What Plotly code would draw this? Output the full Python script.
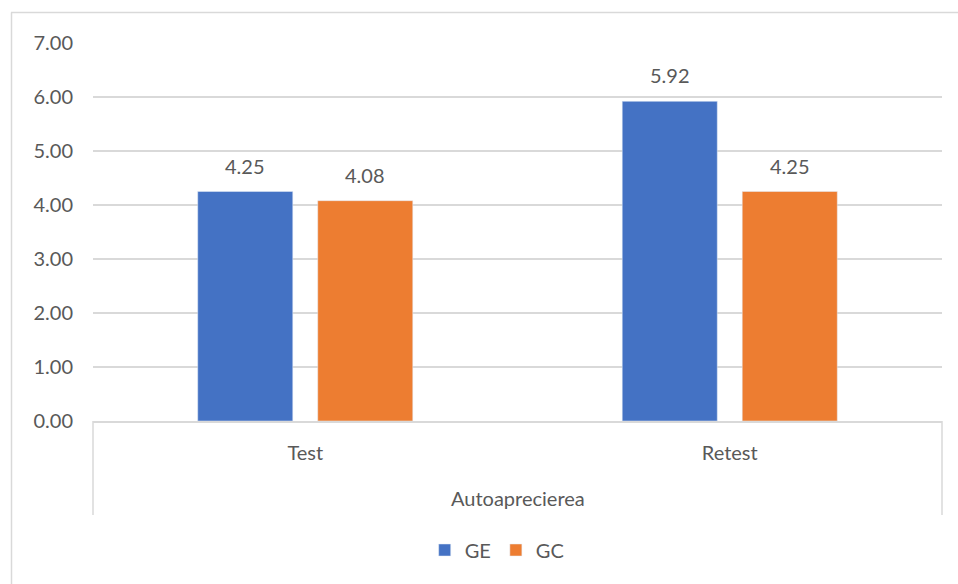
import plotly.graph_objects as go

categories = ["Test", "Retest"]
group_label = "Autoaprecierea"
ge_values = [4.25, 5.92]
gc_values = [4.08, 4.25]
series_names = ["GE", "GC"]
tick_vals = [0, 1, 2, 3, 4, 5, 6, 7]
tick_text = ["0.00", "1.00", "2.00", "3.00", "4.00", "5.00", "6.00", "7.00"]

BLUE = "#4472C4"
ORANGE = "#ED7D31"
TXT = "#595959"
GRID = "#D9D9D9"
FONT = "Lato"
FS = 20

# plot area geometry (pixels)
L, R, T, B = 93, 942, 43, 421
PW, PH = R - L, B - T

def py(p):
    return (B - p) / PH

def px(p):
    return (p - L) / PW

fig = go.Figure()
fig.add_trace(go.Bar(x=categories, y=ge_values, name=series_names[0], marker_color=BLUE))
fig.add_trace(go.Bar(x=categories, y=gc_values, name=series_names[1], marker_color=ORANGE))

# data labels
for vals, shift in ((ge_values, -60), (gc_values, 60)):
    for c, v in zip(categories, vals):
        fig.add_annotation(x=c, y=v, text=f"{v:.2f}", showarrow=False,
                           xshift=shift, yshift=26, font=dict(family=FONT, size=FS, color=TXT))

# group label and dividers
fig.add_annotation(x=0.5, xref="paper", y=py(498), yref="paper", yanchor="middle",
                   text=group_label, showarrow=False, font=dict(family=FONT, size=FS, color=TXT))
for xp in (0, 1):
    fig.add_shape(type="line", xref="paper", yref="paper", x0=xp, x1=xp, y0=0, y1=py(515),
                  line=dict(color=GRID, width=1.5))
# chart border (top and left)
fig.add_shape(type="line", xref="paper", yref="paper", x0=px(11), x1=px(970),
              y0=py(12.5), y1=py(12.5), line=dict(color=GRID, width=1.5))
fig.add_shape(type="line", xref="paper", yref="paper", x0=px(11.5), x1=px(11.5),
              y0=py(12.5), y1=py(600), line=dict(color=GRID, width=1.5))

fig.update_layout(
    width=958, height=584,
    margin=dict(l=L, r=958 - R, t=T, b=584 - B),
    paper_bgcolor="white", plot_bgcolor="white",
    bargap=0.4346, bargroupgap=0.208,
    font=dict(family=FONT, size=FS, color=TXT),
    showlegend=True,
    legend=dict(orientation="h", xref="container", yref="container", x=0.519, xanchor="center",
                y=1 - 550 / 584, yanchor="middle", font=dict(family=FONT, size=FS, color=TXT),
                itemwidth=30, tracegroupgap=0),
)
fig.update_xaxes(showline=True, linecolor=GRID, linewidth=1.5, showgrid=False,
                 ticks="", ticklabelstandoff=13, tickfont=dict(family=FONT, size=FS, color=TXT))
fig.update_yaxes(range=[0, 7], tickvals=tick_vals, ticktext=tick_text, showgrid=True,
                 gridcolor=GRID, gridwidth=1.5, zeroline=False, showline=False,
                 ticks="", ticklabelstandoff=19, tickfont=dict(family=FONT, size=FS, color=TXT))

fig.write_html("out.html", config={"displayModeBar": False},
               post_script="document.body.style.margin='0';")
